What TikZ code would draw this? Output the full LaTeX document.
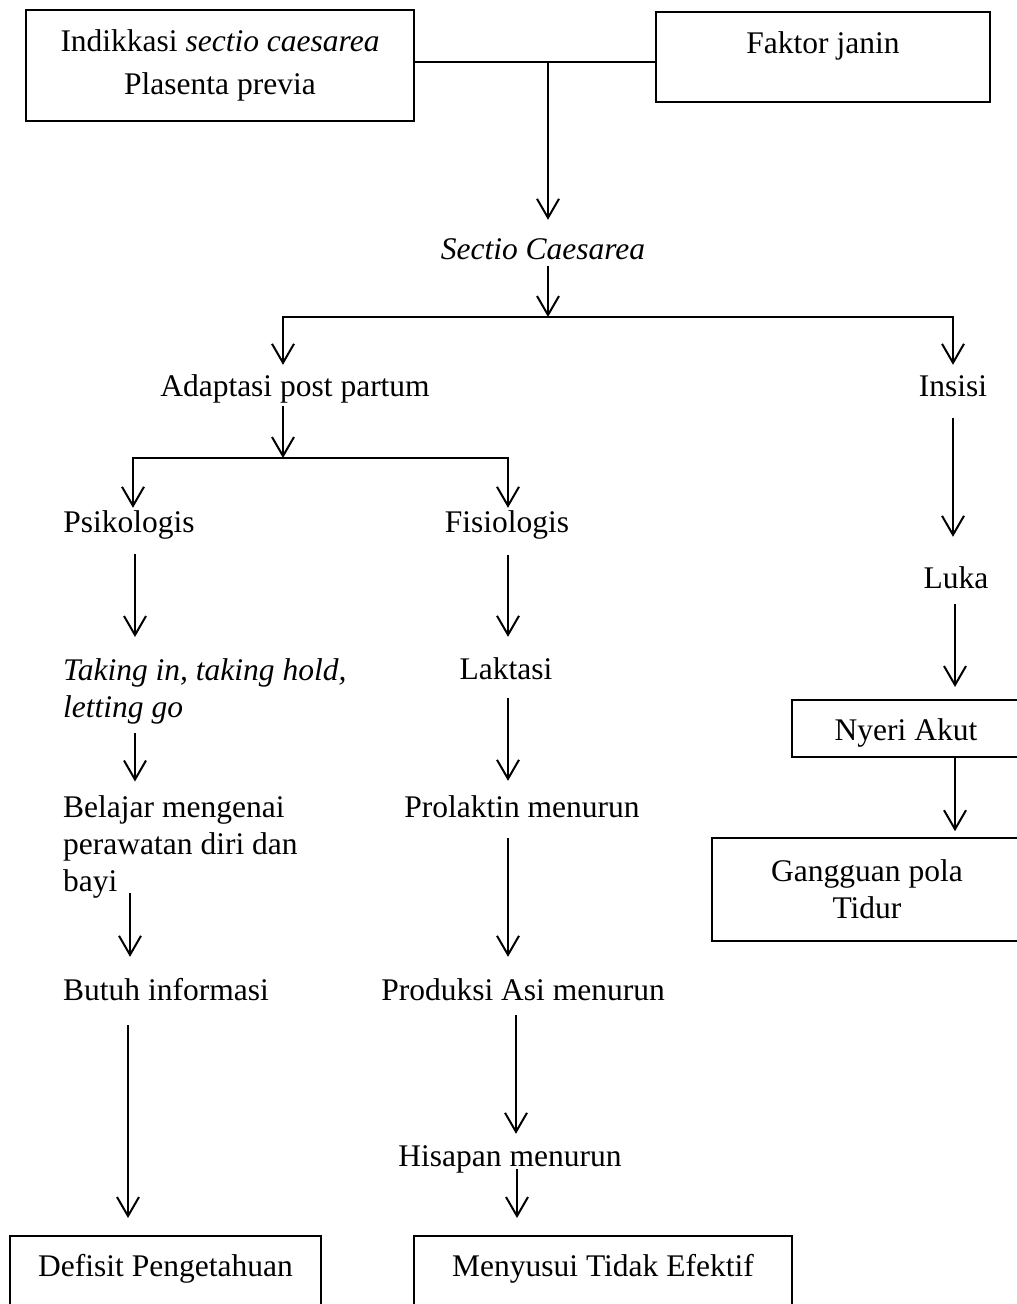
\documentclass[tikz,border=0pt]{standalone}
\usepackage{fontspec}
\setmainfont{Liberation Serif}
\usetikzlibrary{arrows.meta}

\tikzset{
  panah/.style={-{Straight Barb[length=19pt,width=22pt]}, line width=2pt},
  garis/.style={line width=2pt, line cap=rect},
  teks/.style={inner sep=0pt, text height=22pt, text depth=7pt, anchor=base},
  blok/.style={inner sep=0pt, align=left, anchor=north west},
  kotak/.style={draw, line width=1.6pt, inner sep=0pt},
}

\begin{document}
\begin{tikzpicture}[x=1pt, y=-1pt, every node/.style={font=\fontsize{31.5}{37}\selectfont}]
        \useasboundingbox (0,0) rectangle (1017,1304);
        \clip (0,0) rectangle (1017,1304);

        \node[kotak, align=center, minimum width=388pt, minimum height=111pt] (indikasi) at (220,65.5) {Indikkasi \textit{sectio caesarea}\\[6pt]Plasenta previa};
        \node[kotak, minimum width=334pt, text height=42pt, text depth=48pt, anchor=north] (janin) at (823,11) {Faktor janin};
        \node[kotak, minimum width=228pt, text height=41pt, text depth=16pt, anchor=north] (nyeri) at (906,699) {Nyeri Akut};
        \node[kotak, align=center, minimum width=310pt, minimum height=103pt] (gangguan) at (867,889.5) {Gangguan pola\\Tidur};
        \node[kotak, minimum width=311pt, text height=41pt, text depth=60pt, anchor=north] (defisit) at (165.5,1235) {Defisit Pengetahuan};
        \node[kotak, minimum width=378pt, text height=41pt, text depth=60pt, anchor=north] (menyusui) at (603,1235) {Menyusui Tidak Efektif};

        \node[teks] (sc) at (543,259) {\textit{Sectio Caesarea}};
        \node[teks] (adaptasi) at (295,396) {Adaptasi post partum};
        \node[teks] (insisi) at (953,396) {Insisi};
        \node[teks] (psiko) at (129,532) {Psikologis};
        \node[teks] (fisio) at (507,532) {Fisiologis};
        \node[teks] (luka) at (956,588) {Luka};
        \node[blok, font=\fontsize{31.5}{37}\selectfont\itshape] (taking) at (63,658) {Taking in, taking hold,\\letting go};
        \node[teks] (laktasi) at (506,679) {Laktasi};
        \node[blok] (belajar) at (63,795.5) {Belajar mengenai\\perawatan diri dan\\bayi};
        \node[teks] (prolaktin) at (522,817) {Prolaktin menurun};
        \node[teks, anchor=base west] (butuh) at (63,1000) {Butuh informasi};
        \node[teks] (produksi) at (523,1000) {Produksi Asi menurun};
        \node[teks] (hisapan) at (510,1166) {Hisapan menurun};

        \coordinate (gabung) at (548,62);
        \coordinate (cabang) at (548,317);
        \coordinate (kiri) at (283,317);
        \coordinate (kanan) at (953,317);
        \coordinate (cabang2) at (283,458);
        \coordinate (psi) at (133,458);
        \coordinate (fis) at (508,458);

        \draw[garis] (indikasi.east |- gabung) -- (janin.west |- gabung);
        \draw[panah, shorten >=17pt] (gabung) -- (sc.north -| gabung);
        \draw[panah] (sc.south -| cabang) -- (cabang);
        \draw[garis] (kiri) -- (kanan);
        \draw[panah, shorten >=9pt] (kiri) -- (adaptasi.north -| kiri);
        \draw[panah, shorten >=9pt] (kanan) -- (insisi.north -| kanan);
        \draw[panah, shorten <=3pt] (adaptasi.south -| cabang2) -- (cabang2);
        \draw[garis] (psi) -- (fis);
        \draw[panah, shorten >=2pt] (psi) -- (psiko.north -| psi);
        \draw[panah, shorten >=2pt] (fis) -- (fisio.north -| fis);

        \draw[panah, shorten <=15pt, shorten >=21pt] (psiko.south -| 135,0) -- (taking.north -| 135,0);
        \draw[panah, shorten <=16pt, shorten >=20pt] (fisio.south -| 508,0) -- (laktasi.north -| 508,0);
        \draw[panah, shorten <=15pt, shorten >=29pt] (insisi.south -| 953,0) -- (luka.north -| 953,0);
        \draw[panah, shorten <=9pt, shorten >=12pt] (luka.south -| 955,0) -- (nyeri.north -| 955,0);
        \draw[panah, shorten <=9pt, shorten >=14pt] (taking.south -| 135,0) -- (belajar.north -| 135,0);
        \draw[panah, shorten <=12pt, shorten >=14pt] (laktasi.south -| 508,0) -- (prolaktin.north -| 508,0);
        \draw[panah, shorten >=6pt] (nyeri.south -| 955,0) -- (gangguan.north -| 955,0);
        \draw[panah, shorten <=-6pt, shorten >=21pt] (belajar.south -| 130,0) -- (butuh.north -| 130,0);
        \draw[panah, shorten <=14pt, shorten >=21pt] (prolaktin.south -| 508,0) -- (produksi.north -| 508,0);
        \draw[panah, shorten <=18pt, shorten >=17pt] (butuh.south -| 128,0) -- (defisit.north -| 128,0);
        \draw[panah, shorten <=8pt, shorten >=10pt] (produksi.south -| 516,0) -- (hisapan.north -| 516,0);
        \draw[panah, shorten <=-4pt, shorten >=17pt] (hisapan.south -| 517,0) -- (menyusui.north -| 517,0);
\end{tikzpicture}
\end{document}
